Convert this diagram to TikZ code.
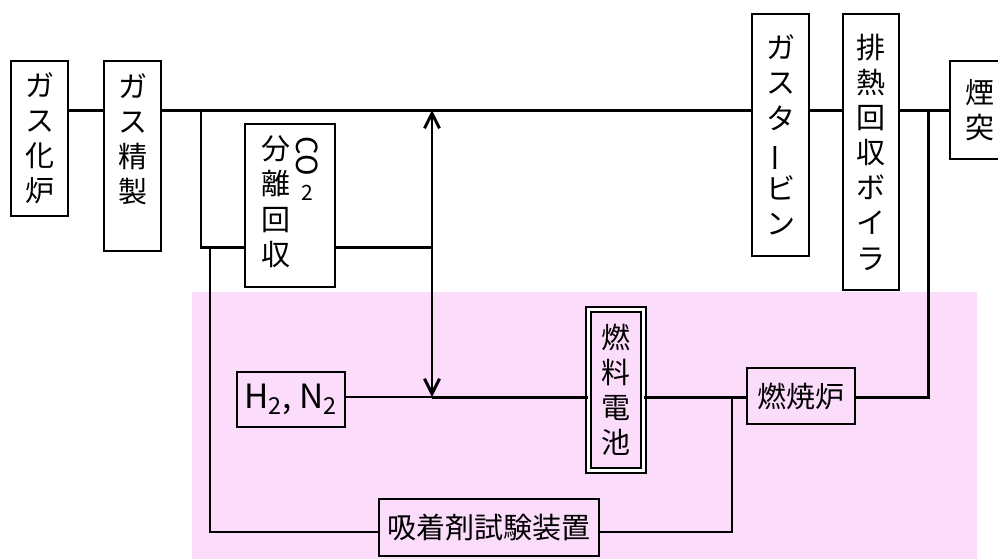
\documentclass[tikz,border=0pt]{standalone}
\usepackage{fontspec}
\setmainfont{Noto Sans CJK JP}
\usepackage{graphicx}
\usetikzlibrary{arrows.meta}
\definecolor{fcpink}{RGB}{251,220,251}
\newcommand{\vbar}{\rotatebox[origin=c]{90}{ー}}

\begin{document}
\begin{tikzpicture}[
  x=0.02cm, y=-0.02cm,
  unit/.style={rectangle, draw, line width=0.7pt, inner sep=2pt, align=center, font=\fontsize{16.5}{20}\selectfont},
  pipe/.style={line width=1.7pt},
  thin/.style={line width=0.8pt},
  flow/.style={pipe, {Straight Barb[length=3mm,width=3mm]}-{Straight Barb[length=3mm,width=3mm]}},
]
\useasboundingbox (0,0) rectangle (998,559);

% === Fuel cell test area (background) ===
\fill[fcpink] (192,292) rectangle (977,559);

% === Main gas line ===
\node[unit, minimum width=1.14cm, minimum height=3.10cm] (gasif) at (39.5,138.5) {ガ\\ス\\化\\炉};
\node[unit, minimum width=1.14cm, minimum height=3.80cm] (gasref) at (132.5,156)
  {\begin{tabular}{@{}c@{}}ガ\\ス\\精\\製\\[15pt]\end{tabular}};
\node[unit, minimum width=1.80cm, minimum height=3.26cm] (co2sep) at (290,205.5)
  {\begin{tabular}[t]{@{}c@{}}分\\離\\回\\収\end{tabular}\hspace{3pt}%
   \begin{tabular}[t]{@{}c@{}}\raisebox{-4pt}{\rotatebox[origin=c]{-90}{CO}}\\[2pt]{\fontsize{12}{12}\selectfont 2}\end{tabular}};
\node[unit, minimum width=1.14cm, minimum height=4.84cm] (gt) at (780.5,135) {ガ\\ス\\タ\\\vbar\\ビ\\ン};
\node[unit, minimum width=1.12cm, minimum height=5.52cm] (hrsg) at (871,152) {排\\熱\\回\\収\\ボ\\イ\\ラ};
\node[unit, minimum width=1.20cm, minimum height=1.96cm] (chimney) at (980,110) {煙\\突};

% === Fuel cell side ===
\node[unit, minimum width=2.16cm, minimum height=1.10cm, font=\fontsize{19}{22}\selectfont] (h2n2) at (291,399.5) {H\textsubscript{2}, N\textsubscript{2}};
\node[unit, double, double distance=2.2pt, minimum width=1.10cm, minimum height=3.22cm] (fc) at (616,390) {燃\\料\\電\\池};
\node[unit, minimum width=2.16cm, minimum height=1.12cm] (burner) at (801,396) {燃焼炉};
\node[unit, minimum width=4.40cm, minimum height=1.14cm] (adsorb) at (489,527.5) {吸着剤試験装置};

% helper rows / columns
\coordinate (mainy) at (0,110);
\coordinate (rety) at (0,247);
\coordinate (fcy) at (0,397);
\coordinate (adsy) at (0,532);
\coordinate (brx) at (201,0);
\coordinate (arx) at (432,0);
\coordinate (adx) at (210,0);
\coordinate (bux) at (732,0);
\coordinate (stx) at (928,0);

\draw[pipe] (gasif.east|-mainy) -- (gasref.west|-mainy);
\draw[pipe] (gasref.east|-mainy) -- (gt.west|-mainy);
\draw[pipe] (gt.east|-mainy) -- (hrsg.west|-mainy);
\draw[pipe] (hrsg.east|-mainy) -- (chimney.west|-mainy);
\draw[pipe] (brx|-mainy) -- (brx|-rety) -- (co2sep.west|-rety);
\draw[pipe] (co2sep.east|-rety) -- (arx|-rety);
\draw[flow] (arx|-mainy) -- (arx|-fcy);
\draw[pipe] (arx|-fcy) -- (fc.west|-fcy);
\draw[pipe] (fc.east|-fcy) -- (burner.west|-fcy);
\draw[pipe] (burner.east|-fcy) -- (stx|-fcy) -- (stx|-mainy);

\draw[thin] (h2n2.east|-fcy) -- (arx|-fcy);
\draw[thin] (adx|-rety) -- (adx|-adsy) -- (adsorb.west|-adsy);
\draw[thin] (adsorb.east|-adsy) -- (bux|-adsy) -- (bux|-fcy);

\end{tikzpicture}
\end{document}
